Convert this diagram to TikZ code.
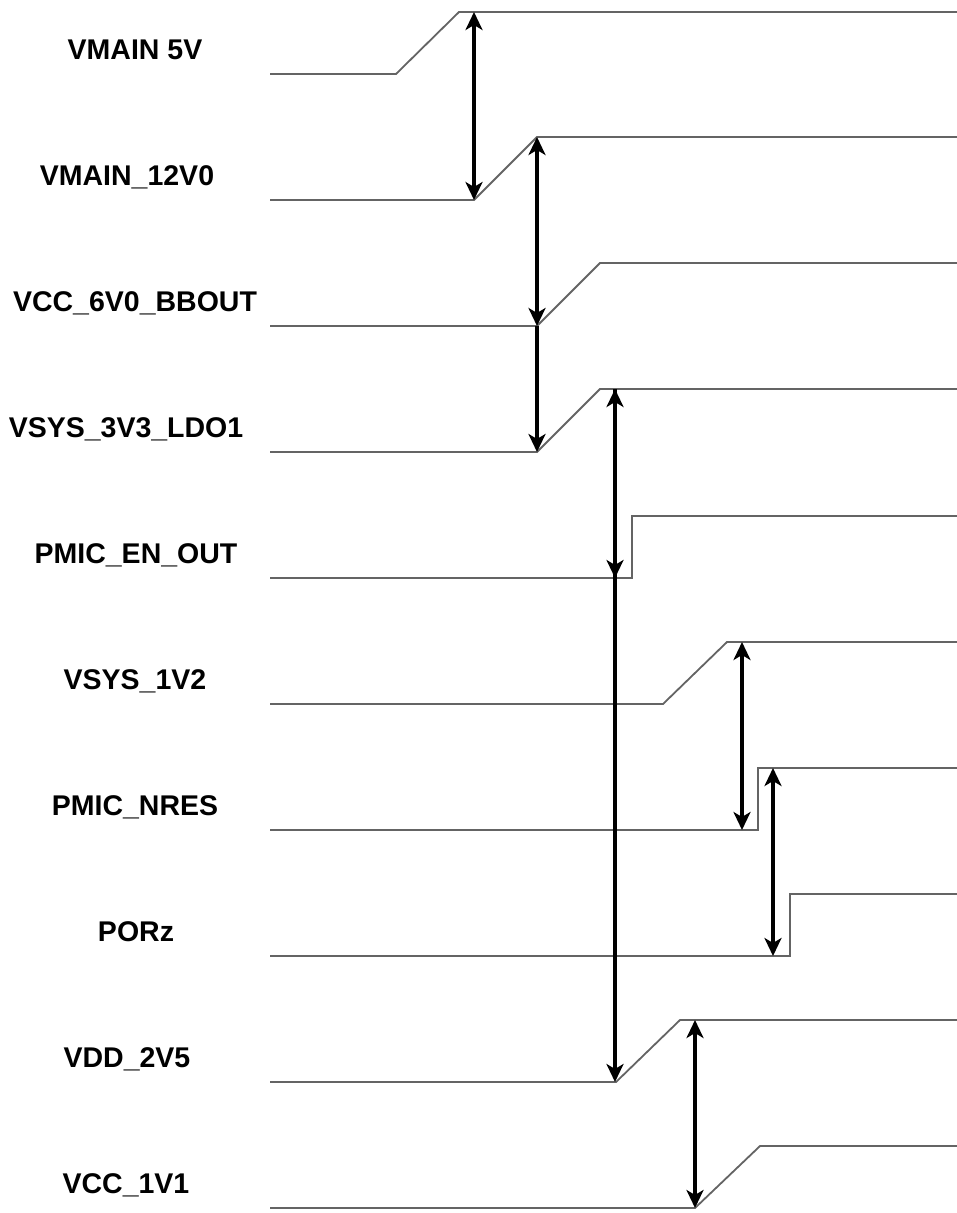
\documentclass[tikz,border=0pt]{standalone}
\usepackage{fontspec}
\setmainfont{Liberation Sans}
\usetikzlibrary{arrows.meta}

\definecolor{wavegray}{RGB}{100,100,100}

\begin{document}
\begin{tikzpicture}[
    % Signal lines (thin grey)
    wave/.style={draw=wavegray, line width=1.8pt, line join=miter},
    % Signal names on the left
    signame/.style={font=\bfseries\fontsize{28.5}{32}\selectfont, anchor=base, inner sep=0pt},
    % Timing arrows between the edges
    delay/.style={black, line width=3.2pt,
        {Stealth[length=18pt,width=17pt,inset=5pt]}-{Stealth[length=18pt,width=17pt,inset=5pt]}},
    onedelay/.style={black, line width=3.2pt,
        -{Stealth[length=18pt,width=17pt,inset=5pt]}}
,x=1pt, y=-1pt]

    \useasboundingbox (0,0) rectangle (957,1213);

    % Corner points of the waveforms: a = edge starts, b = edge ends (high level)
    \coordinate (s1a) at (396, 74);   \coordinate (s1b) at (459, 12);
    \coordinate (s2a) at (474, 200);  \coordinate (s2b) at (537, 137);
    \coordinate (s3a) at (537, 326);  \coordinate (s3b) at (600, 263);
    \coordinate (s4a) at (537, 452);  \coordinate (s4b) at (600, 389);
    \coordinate (s5a) at (632, 578);  \coordinate (s5b) at (632, 516);
    \coordinate (s6a) at (663, 704);  \coordinate (s6b) at (727, 642);
    \coordinate (s7a) at (758, 830);  \coordinate (s7b) at (758, 768);
    \coordinate (s8a) at (790, 956);  \coordinate (s8b) at (790, 894);
    \coordinate (s9a) at (616, 1082); \coordinate (s9b) at (680, 1020);
    \coordinate (s10a) at (695, 1208); \coordinate (s10b) at (760, 1146);

    % Waveforms (low level, edge, high level)
    \draw[wave] (270, 74) -- (s1a) -- (s1b) -- (957, 12);
    \draw[wave] (270, 200) -- (s2a) -- (s2b) -- (957, 137);
    \draw[wave] (270, 326) -- (s3a) -- (s3b) -- (957, 263);
    \draw[wave] (270, 452) -- (s4a) -- (s4b) -- (957, 389);
    \draw[wave] (270, 578) -- (s5a) -- (s5b) -- (957, 516);
    \draw[wave] (270, 704) -- (s6a) -- (s6b) -- (957, 642);
    \draw[wave] (270, 830) -- (s7a) -- (s7b) -- (957, 768);
    \draw[wave] (270, 956) -- (s8a) -- (s8b) -- (957, 894);
    \draw[wave] (270, 1082) -- (s9a) -- (s9b) -- (957, 1020);
    \draw[wave] (270, 1208) -- (s10a) -- (s10b) -- (957, 1146);

    % Signal names
    \node[signame] (n1) at (135, 59) {VMAIN 5V};
    \node[signame] (n2) at (127, 185) {VMAIN\_12V0};
    \node[signame] (n3) at (135, 311) {VCC\_6V0\_BBOUT};
    \node[signame] (n4) at (126, 437) {VSYS\_3V3\_LDO1};
    \node[signame] (n5) at (136, 563) {PMIC\_EN\_OUT};
    \node[signame] (n6) at (135, 689) {VSYS\_1V2};
    \node[signame] (n7) at (135, 815) {PMIC\_NRES};
    \node[signame] (n8) at (136, 941) {PORz};
    \node[signame] (n9) at (127, 1067) {VDD\_2V5};
    \node[signame] (n10) at (126, 1193) {VCC\_1V1};

    % End points of the arrows lying on the high levels
    \coordinate (t1) at (474, 12);
    \coordinate (t4) at (615, 389);
    \coordinate (b5) at (615, 578);
    \coordinate (b9) at (615, 1082);
    \coordinate (t6) at (742, 642);
    \coordinate (b7) at (742, 830);
    \coordinate (t7) at (773, 768);
    \coordinate (b8) at (773, 956);
    \coordinate (t9) at (695, 1020);

    % Timing arrows
    \draw[delay] (t1) -- (s2a);
    \draw[delay] (s2b) -- (s3a);
    \draw[onedelay] (s3a) -- (s4a);
    \draw[delay] (t4) -- (b5);
    \draw[onedelay] (t4) -- (b9);
    \draw[delay] (t6) -- (b7);
    \draw[delay] (t7) -- (b8);
    \draw[delay] (t9) -- (s10a);
\end{tikzpicture}
\end{document}
